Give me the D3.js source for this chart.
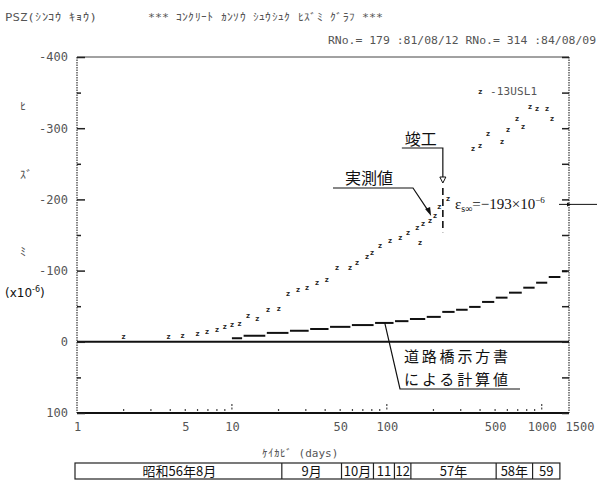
<!DOCTYPE html>
<html>
<head>
<meta charset="utf-8">
<script src="https://cdn.jsdelivr.net/npm/d3@7"></script>
<style>
  body { margin: 0; background: #fff; }
  .dot { font-family: "DejaVu Sans Mono", monospace; fill: #555; }
  .jp { font-family: "Noto Sans CJK JP", sans-serif; fill: #111; }
</style>
</head>
<body>
<svg id="chart" width="597" height="488"></svg>
<script>
// measured shrinkage strain (x10^-6) vs elapsed days
const measDays = [2, 3.9, 4.8, 6, 6.9, 8, 9, 10, 11.2, 12.7, 14.6, 17.1, 20.1, 23, 26.7, 30.5, 35.4,
  41, 47.7, 57.8, 64.2, 74.5, 80.2, 90.4, 105, 122, 137, 157, 164, 171, 190, 205, 218, 248,
  360, 400, 450, 554, 606, 693, 757, 841, 933, 1082, 1165];
const measVals = [-7, -7, -9, -12, -14, -17, -21, -24, -26, -37, -33, -45, -47, -68, -73, -76, -84,
  -88, -105, -104, -112, -120, -125, -136, -143, -147, -153, -161, -140, -167, -171, -178, -190, -202,
  -272, -276, -293, -281, -298, -314, -302, -330, -328, -328, -314];

// calculated values (Road Bridge Specification), drawn as steps
const calcStart = [10, 11.9, 16.8, 23.7, 32, 43, 59.5, 84, 113, 141, 181, 228, 280, 340, 412, 505, 615, 760, 920, 1110, 1350];
const calcVals = [-5, -8.5, -12.5, -15.5, -18, -21, -23.5, -26.5, -29, -32, -35, -42, -45, -49, -56, -62, -69, -76, -83, -91, -99];
const calcEnd = 1500;

const xTickVals = [1, 5, 10, 50, 100, 500, 1000, 1500];
const yTickVals = [-400, -300, -200, -100, 0, 100];
const yMinorVals = [-350, -250, -150, -50, 50];

const tableEdges = [1, 21, 51, 82, 112, 143, 508, 873, 1310];
const tableLabels = ["昭和56年8月", "9月", "10月", "11", "12", "57年", "58年", "59"];

const completionDay = 230;
const epsInf = -193;

const svg = d3.select("#chart");
const x = d3.scaleLog().domain([1, 1500]).range([77, 569]);
const y = d3.scaleLinear().domain([-400, 100]).range([57, 413]);

// header text (line printer style)
svg.append("text").attr("class", "dot").attr("x", 5).attr("y", 21)
  .attr("font-size", 11).attr("textLength", 92).attr("lengthAdjust", "spacingAndGlyphs")
  .text("PSZ(ｼﾝｺｳ ｷｮｳ)");
svg.append("text").attr("class", "dot").attr("x", 148).attr("y", 21)
  .attr("font-size", 11).attr("textLength", 235).attr("lengthAdjust", "spacingAndGlyphs")
  .text("***  ｺﾝｸﾘｰﾄ ｶﾝｿｳ ｼｭｳｼｭｸ ﾋｽﾞﾐ  ｸﾞﾗﾌ  ***");
svg.append("text").attr("class", "dot").attr("x", 328).attr("y", 44)
  .attr("font-size", 11).attr("textLength", 268).attr("lengthAdjust", "spacingAndGlyphs")
  .text("RNo.= 179 :81/08/12 RNo.= 314 :84/08/09");

// frame
svg.append("line").attr("x1", x(1)).attr("x2", x(1500)).attr("y1", y(-400)).attr("y2", y(-400))
  .attr("stroke", "#444").attr("stroke-width", 1);
[1, 1500].forEach(d => {
  svg.append("line").attr("x1", x(d)).attr("x2", x(d)).attr("y1", y(-400)).attr("y2", y(100))
    .attr("stroke", "#333").attr("stroke-width", 1.2).attr("stroke-dasharray", "1.5,1");
});
svg.append("line").attr("x1", x(1)).attr("x2", x(1500)).attr("y1", y(100)).attr("y2", y(100))
  .attr("stroke", "#111").attr("stroke-width", 2);
svg.append("line").attr("x1", x(1)).attr("x2", x(1500)).attr("y1", y(0)).attr("y2", y(0))
  .attr("stroke", "#111").attr("stroke-width", 2);

// y axis (ticks inward)
const yAxis = svg.append("g").attr("transform", `translate(${x(1)},0)`)
  .call(d3.axisLeft(y).tickValues(yTickVals).tickSizeInner(-8).tickSizeOuter(0).tickPadding(9)
    .tickFormat(d => d > 0 ? String(d) : (d === 0 ? "0" : "-" + Math.abs(d))));
yAxis.select(".domain").remove();
yAxis.selectAll("line").attr("stroke", "#222").attr("stroke-width", 1.5);
yAxis.selectAll("text").attr("class", "dot").attr("font-size", 12).attr("fill", "#666");
const yMinor = svg.append("g").attr("transform", `translate(${x(1)},0)`)
  .call(d3.axisLeft(y).tickValues(yMinorVals).tickSizeInner(-4).tickSizeOuter(0).tickFormat(""));
yMinor.select(".domain").remove();
yMinor.selectAll("line").attr("stroke", "#222").attr("stroke-width", 1.5);

const yRight = svg.append("g").attr("transform", `translate(${x(1500)},0)`)
  .call(d3.axisRight(y).tickValues(yTickVals.concat(yMinorVals)).tickSizeInner(-7).tickSizeOuter(0).tickFormat(""));
yRight.select(".domain").remove();
yRight.selectAll("line").attr("stroke", "#222").attr("stroke-width", 1.5);

// x axis labels
const xAxis = svg.append("g").attr("transform", `translate(0,${y(100)})`)
  .call(d3.axisBottom(x).tickValues(xTickVals).tickSize(0).tickPadding(9).tickFormat(d3.format("d")));
xAxis.select(".domain").remove();
xAxis.selectAll("text").attr("class", "dot").attr("font-size", 12).attr("fill", "#666");
xAxis.selectAll(".tick").filter(d => d === 1500).select("text")
  .attr("text-anchor", "start").attr("dx", -4);

// small dotted x ticks
const minorX = [];
[1, 10, 100, 1000].forEach(dec => {
  for (let k = 2; k <= 9; k++) if (dec * k < 1500) minorX.push(dec * k);
});
svg.append("g").selectAll("line").data(minorX).join("line")
  .attr("x1", d => x(d)).attr("x2", d => x(d))
  .attr("y1", y(100) - 4).attr("y2", y(100) - 2)
  .attr("stroke", "#444").attr("stroke-width", 1.2);
svg.append("g").selectAll("line").data([10, 100, 1000]).join("line")
  .attr("x1", d => x(d)).attr("x2", d => x(d))
  .attr("y1", y(100) - 9).attr("y2", y(100) - 2)
  .attr("stroke", "#444").attr("stroke-width", 1.2).attr("stroke-dasharray", "2,1.5");

// axis titles
svg.append("text").attr("class", "dot").attr("x", 20).attr("y", 111).attr("font-size", 12).attr("fill", "#444").text("ﾋ");
svg.append("text").attr("class", "dot").attr("x", 20).attr("y", 179).attr("font-size", 12).attr("fill", "#444").text("ｽﾞ");
svg.append("text").attr("class", "dot").attr("x", 20).attr("y", 256).attr("font-size", 12).attr("fill", "#444").text("ﾐ");
const unit = svg.append("text").attr("x", 5).attr("y", 297)
  .attr("font-family", "DejaVu Sans, sans-serif").attr("font-size", 12).attr("fill", "#111");
unit.append("tspan").text("(x10");
unit.append("tspan").attr("dy", -5).attr("font-size", 8).text("-6");
unit.append("tspan").attr("dy", 5).text(")");

svg.append("text").attr("class", "dot").attr("x", 262).attr("y", 457)
  .attr("font-size", 11).attr("fill", "#777").text("ｹｲｶﾋﾞ  (days)");

// calculated step line
const steps = calcStart.map((d, i) => ({ s: d, e: i < calcStart.length - 1 ? calcStart[i + 1] : calcEnd, v: calcVals[i] }));
svg.append("g").selectAll("line").data(steps).join("line")
  .attr("x1", d => x(d.s)).attr("x2", d => x(d.e) - 1.5)
  .attr("y1", d => y(d.v)).attr("y2", d => y(d.v))
  .attr("stroke", "#111").attr("stroke-width", 2);

// measured points
svg.append("g").selectAll("text").data(measDays.map((d, i) => [d, measVals[i]])).join("text")
  .attr("class", "dot").attr("font-size", 7.5).attr("font-weight", "bold").style("fill", "#222")
  .attr("text-anchor", "middle").attr("dy", "0.35em")
  .attr("x", d => x(d[0])).attr("y", d => y(d[1])).text("z");

// legend
svg.append("text").attr("class", "dot").attr("x", 478).attr("y", 94).attr("font-size", 7.5)
  .attr("font-weight", "bold").style("fill", "#222").text("z");
svg.append("text").attr("class", "dot").attr("x", 490).attr("y", 95).attr("font-size", 11).attr("fill", "#666")
  .attr("textLength", 47).text("-13USL1");

// completion marker
const cx = x(completionDay);
svg.append("line").attr("x1", cx).attr("x2", cx).attr("y1", y(-216)).attr("y2", y(-154))
  .attr("stroke", "#111").attr("stroke-width", 1.6).attr("stroke-dasharray", "7,4");
svg.append("text").attr("class", "jp").attr("x", cx - 38).attr("y", 145).attr("font-size", 16).text("竣工");
svg.append("polyline").attr("points", `${cx - 41},148 ${cx},148 ${cx},178`)
  .attr("fill", "none").attr("stroke", "#111").attr("stroke-width", 1.2);
svg.append("path").attr("d", `M${cx - 3},177 L${cx + 3},177 L${cx},183 Z`)
  .attr("fill", "#fff").attr("stroke", "#111").attr("stroke-width", 1);

// measured label
svg.append("text").attr("class", "jp").attr("x", 345).attr("y", 184).attr("font-size", 16).text("実測値");
svg.append("polyline").attr("points", `333,188 413,188 ${x(205) - 6},${y(-178) - 3}`)
  .attr("fill", "none").attr("stroke", "#111").attr("stroke-width", 1.2);
svg.append("path").attr("d", `M${x(205) - 4},${y(-178) + 1} L${x(205) - 10},${y(-178) - 6} L${x(205) - 5},${y(-178) - 8} Z`)
  .attr("fill", "#111");

// calculated label
svg.append("text").attr("class", "jp").attr("x", 404).attr("y", 362).attr("font-size", 15)
  .attr("textLength", 104).text("道路橋示方書");
svg.append("text").attr("class", "jp").attr("x", 404).attr("y", 385).attr("font-size", 15)
  .attr("textLength", 104).text("による計算値");
svg.append("polyline").attr("points", `${x(97)},${y(-26.5)} 400,389 520,389`)
  .attr("fill", "none").attr("stroke", "#111").attr("stroke-width", 1.2);

// final shrinkage annotation
const eps = svg.append("text").attr("x", 455).attr("y", y(epsInf) + 5)
  .attr("font-family", "Liberation Serif, serif").attr("font-size", 15).attr("fill", "#111");
eps.append("tspan").text("ε");
eps.append("tspan").attr("dy", 3).attr("font-size", 10).text("s∞");
eps.append("tspan").attr("dy", -3).text("=−193×10");
eps.append("tspan").attr("dy", -6).attr("font-size", 9).text("−6");
svg.append("line").attr("x1", 559).attr("x2", 597).attr("y1", y(epsInf)).attr("y2", y(epsInf))
  .attr("stroke", "#111").attr("stroke-width", 1);
svg.append("path").attr("d", `M${x(1500) - 2},${y(epsInf) - 2} L${x(1500) + 2},${y(epsInf)} L${x(1500) - 2},${y(epsInf) + 2} Z`)
  .attr("fill", "#111");

// bottom date table
const tTop = 463, tBot = 479;
svg.append("rect").attr("x", x(tableEdges[0]) - 2).attr("y", tTop)
  .attr("width", x(tableEdges[tableEdges.length - 1]) - x(tableEdges[0]) + 2).attr("height", tBot - tTop)
  .attr("fill", "none").attr("stroke", "#222").attr("stroke-width", 1.2);
svg.append("g").selectAll("line").data(tableEdges.slice(1, -1)).join("line")
  .attr("x1", d => x(d)).attr("x2", d => x(d)).attr("y1", tTop).attr("y2", tBot)
  .attr("stroke", "#222").attr("stroke-width", 1.2);
svg.append("g").selectAll("text").data(tableLabels).join("text")
  .attr("class", "jp").attr("font-size", 13).attr("text-anchor", "middle")
  .attr("x", (d, i) => (x(tableEdges[i]) + x(tableEdges[i + 1])) / 2)
  .attr("y", tBot - 3).text(d => d);
</script>
</body>
</html>
